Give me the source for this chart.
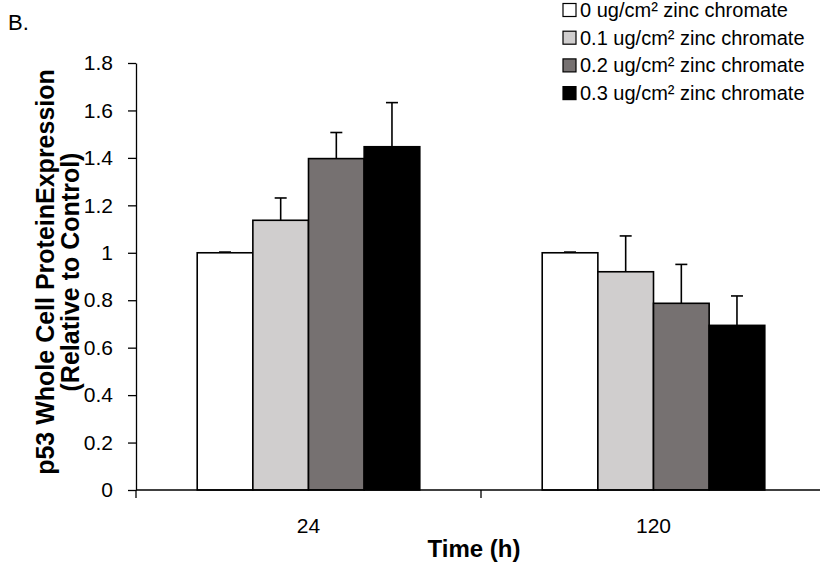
<!DOCTYPE html>
<html>
<head>
<meta charset="utf-8">
<script src="https://cdn.jsdelivr.net/npm/d3@7"></script>
<style>
  body { margin: 0; background: #fff; }
  svg { display: block; font-family: Arial, 'Liberation Sans', sans-serif; }
</style>
</head>
<body>
<div id="chart"></div>
<script>
// data
const timePoints = ['24', '120'];
const doses = [
  '0 ug/cm² zinc chromate',
  '0.1 ug/cm² zinc chromate',
  '0.2 ug/cm² zinc chromate',
  '0.3 ug/cm² zinc chromate',
];
const values24 = [1.0, 1.137, 1.397, 1.447];
const values120 = [1.0, 0.92, 0.787, 0.694];
const errors24 = [0.003, 0.094, 0.11, 0.186];
const errors120 = [0.003, 0.151, 0.164, 0.124];
const yTicks = [0, 0.2, 0.4, 0.6, 0.8, 1, 1.2, 1.4, 1.6, 1.8];

const config = {
  width: 820,
  height: 565,
  plot: { left: 136, right: 826, top: 63, bottom: 490 },
  colors: ['#ffffff', '#d0cece', '#767171', '#000000'],
  font: { tick: 21, legend: 20, xTitle: 24, yTitle: 25 },
};

const series = [values24, values120];
const errs = [errors24, errors120];

const svg = d3
  .select('#chart')
  .append('svg')
  .attr('width', config.width)
  .attr('height', config.height);

const x0 = d3
  .scaleBand()
  .domain(timePoints)
  .range([config.plot.left, config.plot.right]);

const x1 = d3
  .scaleBand()
  .domain(doses)
  .range([0, x0.bandwidth()])
  .paddingInner(0)
  .paddingOuter(1.1);

const y = d3
  .scaleLinear()
  .domain([0, 1.8])
  .range([config.plot.bottom, config.plot.top]);

// bars
const groups = svg
  .append('g')
  .selectAll('g')
  .data(timePoints)
  .join('g')
  .attr('transform', (d) => `translate(${x0(d)},0)`);

groups
  .selectAll('rect')
  .data((d, i) => doses.map((dose, j) => ({ dose, j, v: series[i][j], e: errs[i][j] })))
  .join('rect')
  .attr('x', (d) => x1(d.dose))
  .attr('y', (d) => y(d.v))
  .attr('width', x1.bandwidth())
  .attr('height', (d) => y(0) - y(d.v))
  .attr('fill', (d) => config.colors[d.j])
  .attr('stroke', '#000')
  .attr('stroke-width', 1.6);

// error bars (upper only)
const err = groups
  .selectAll('g.err')
  .data((d, i) => doses.map((dose, j) => ({ dose, v: series[i][j], e: errs[i][j] })))
  .join('g')
  .attr('class', 'err')
  .attr('stroke', '#000')
  .attr('stroke-width', 1.6);

err
  .append('line')
  .attr('x1', (d) => x1(d.dose) + x1.bandwidth() / 2)
  .attr('x2', (d) => x1(d.dose) + x1.bandwidth() / 2)
  .attr('y1', (d) => y(d.v))
  .attr('y2', (d) => y(d.v + d.e));

err
  .append('line')
  .attr('x1', (d) => x1(d.dose) + x1.bandwidth() / 2 - 6)
  .attr('x2', (d) => x1(d.dose) + x1.bandwidth() / 2 + 6)
  .attr('y1', (d) => y(d.v + d.e))
  .attr('y2', (d) => y(d.v + d.e));

// y axis
const yAxis = svg
  .append('g')
  .attr('transform', `translate(${config.plot.left},0)`)
  .call(
    d3
      .axisLeft(y)
      .tickValues(yTicks)
      .tickFormat((d) => String(+d.toFixed(1)))
      .tickSize(8)
      .tickSizeOuter(0)
      .tickPadding(15)
  );
yAxis.select('.domain').attr('stroke-width', 1.3);
yAxis.selectAll('.tick line').attr('stroke-width', 1.3);
yAxis
  .selectAll('.tick text')
  .attr('font-size', config.font.tick)
  .attr('font-family', 'Arial, Liberation Sans, sans-serif')
  .attr('fill', '#000');

// x axis: line, separator ticks, centred labels
const xAxis = svg.append('g');
xAxis
  .append('line')
  .attr('x1', config.plot.left)
  .attr('x2', config.plot.right)
  .attr('y1', y(0))
  .attr('y2', y(0))
  .attr('stroke', '#000')
  .attr('stroke-width', 1.3);

xAxis
  .selectAll('line.sep')
  .data(timePoints.concat(['end']))
  .join('line')
  .attr('class', 'sep')
  .attr('x1', (d, i) => config.plot.left + i * x0.step())
  .attr('x2', (d, i) => config.plot.left + i * x0.step())
  .attr('y1', y(0))
  .attr('y2', y(0) + 8)
  .attr('stroke', '#000')
  .attr('stroke-width', 1.3);

xAxis
  .selectAll('text')
  .data(timePoints)
  .join('text')
  .attr('x', (d) => x0(d) + x0.bandwidth() / 2)
  .attr('y', 533)
  .attr('text-anchor', 'middle')
  .attr('font-size', config.font.tick)
  .text((d) => d);

// axis titles
svg
  .append('text')
  .attr('x', 474)
  .attr('y', 557)
  .attr('text-anchor', 'middle')
  .attr('font-size', config.font.xTitle)
  .attr('font-weight', 'bold')
  .text('Time (h)');

const yTitle = svg
  .append('text')
  .attr('transform', 'translate(54,272) rotate(-90)')
  .attr('text-anchor', 'middle')
  .attr('font-size', config.font.yTitle)
  .attr('font-weight', 'bold');
yTitle.append('tspan').attr('x', 0).attr('dy', 0).text('p53 Whole Cell ProteinExpression');
yTitle.append('tspan').attr('x', 0).attr('dy', 25).text('(Relative to Control)');

// panel label
svg
  .append('text')
  .attr('x', 8)
  .attr('y', 30)
  .attr('font-size', 22)
  .text('B.');

// legend
const legend = svg
  .append('g')
  .selectAll('g')
  .data(doses)
  .join('g')
  .attr('transform', (d, i) => `translate(563,${10 + i * 27.7})`);

legend
  .append('rect')
  .attr('x', 0)
  .attr('y', -6.5)
  .attr('width', 13)
  .attr('height', 13)
  .attr('fill', (d, i) => config.colors[i])
  .attr('stroke', '#000')
  .attr('stroke-width', 1.2);

legend
  .append('text')
  .attr('x', 17)
  .attr('y', 7)
  .attr('font-size', config.font.legend)
  .text((d) => d);
</script>
</body>
</html>
